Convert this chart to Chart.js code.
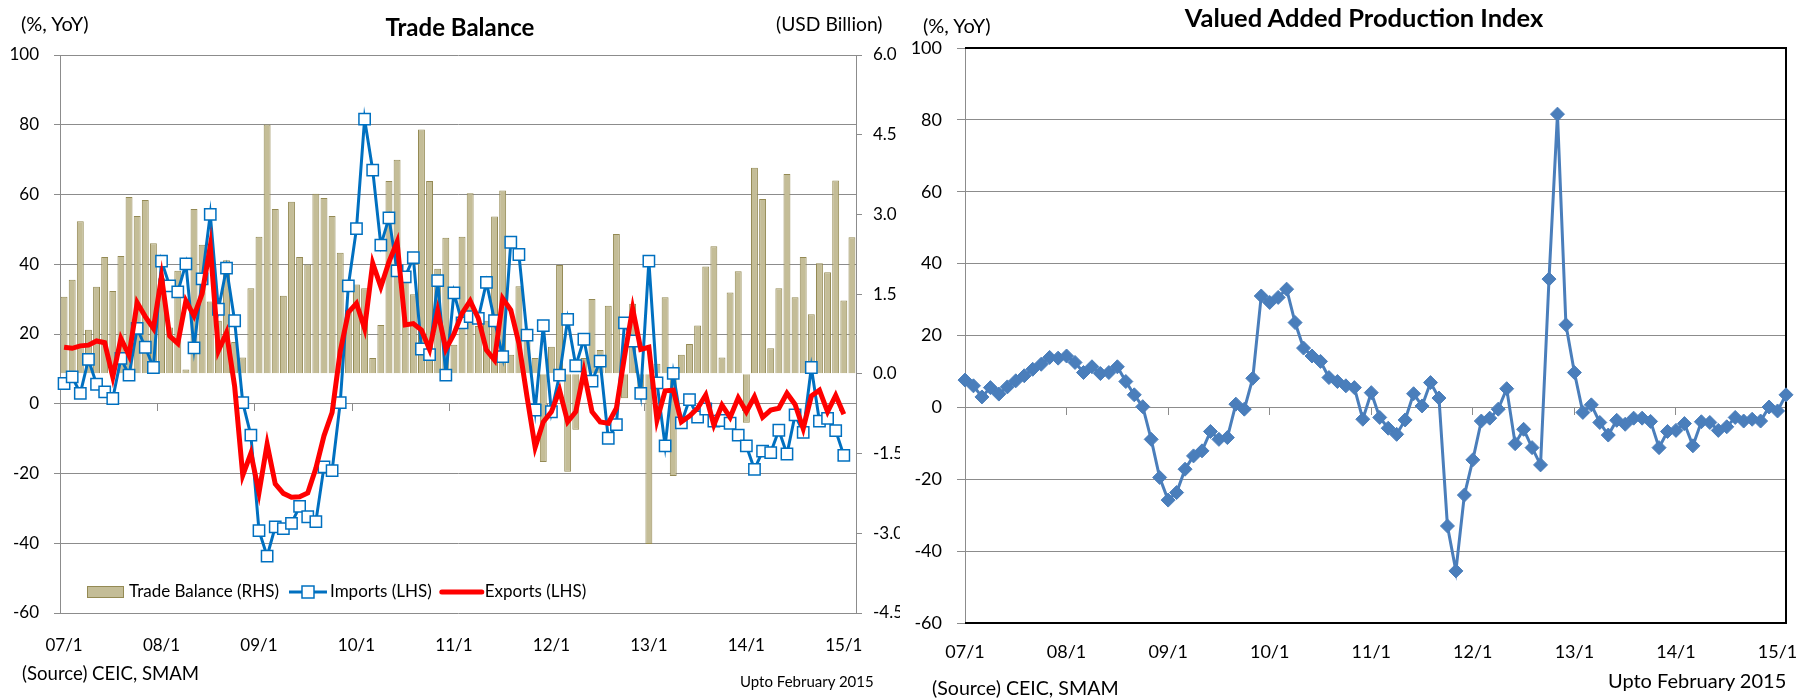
<!DOCTYPE html>
<html>
<head>
<meta charset="utf-8">
<title>Trade Balance / Valued Added Production Index</title>
<script src="https://cdn.jsdelivr.net/npm/chart.js@4.4.1/dist/chart.umd.min.js"></script>
<style>
  html, body { margin: 0; padding: 0; background: #fff; }
  body { width: 1798px; height: 698px; position: relative; overflow: hidden; font-family: Lato, "Open Sans", sans-serif; color: #000; }
  canvas { position: absolute; top: 0; }
  #tradeChart { left: 0; }
  #vaChart { left: 900px; }
  .txt { position: absolute; white-space: nowrap; line-height: 1; }
  .title { font-weight: bold; transform: translateX(-50%); }
</style>
</head>
<body>
<canvas id="tradeChart" width="900" height="698"></canvas>
<canvas id="vaChart" width="898" height="698"></canvas>

<div class="txt title" style="left:460px; top:15px; font-size:24px;">Trade Balance</div>
<div class="txt" style="left:21px; top:13px; font-size:20px;">(%, YoY)</div>
<div class="txt" style="left:776px; top:14px; font-size:19.3px;">(USD Billion)</div>
<div class="txt" style="left:22px; top:664px; font-size:18.6px;">(Source) CEIC, SMAM</div>
<div class="txt" style="left:740px; top:674px; font-size:15px;">Upto February 2015</div>

<div class="txt title" style="left:1364px; top:5px; font-size:25.5px;">Valued Added Production Index</div>
<div class="txt" style="left:923px; top:15px; font-size:20px;">(%, YoY)</div>
<div class="txt" style="left:932px; top:678px; font-size:19.6px;">(Source) CEIC, SMAM</div>
<div class="txt" style="left:1608px; top:670px; font-size:20px;">Upto February 2015</div>

<script>
// Monthly data, Jan 2007 - Feb 2015
const years = ['07', '08', '09', '10', '11', '12', '13', '14', '15'];
const monthLabels = [];
years.forEach(y => { for (let m = 1; m <= 12; m++) monthLabels.push(y + '/' + m); });
monthLabels.length = 98;

// Trade balance, USD billion (RHS)
const tradeBalance = [
  1.45, 1.77, 2.87, 0.83, 1.64, 2.20, 1.56, 2.22, 3.33, 2.97, 3.27, 2.46,
  1.80, 0.87, 1.94, 0.08, 3.10, 2.43, 1.36, 1.00, 2.14, 0.60, 0.31, 1.61,
  2.58, 4.69, 3.10, 1.47, 3.24, 2.20, 2.06, 3.39, 3.31, 2.97, 2.28, 1.20,
  1.68, 1.61, 0.30, 0.92, 3.63, 4.03, 1.80, 1.50, 4.60, 3.63, 1.98, 2.56,
  0.55, 2.58, 3.40, 0.90, 1.00, 2.96, 3.45, 0.36, 1.65, 0.78, 0.30, -1.66,
  0.51, 2.05, -1.84, -1.05, 0.30, 1.41, 0.45, 1.28, 2.63, -0.46, 1.32, -0.40,
  -3.20, 0.19, 1.44, -1.92, 0.36, 0.56, 0.91, 2.02, 2.40, 0.31, 1.53, 1.93,
  -0.92, 3.88, 3.29, 0.48, 1.61, 3.76, 1.44, 2.20, 1.12, 2.08, 1.91, 3.64,
  1.38, 2.57
];

// Imports, % YoY (LHS)
const importsYoY = [
  5.8, 7.7, 3.0, 12.7, 5.6, 3.4, 1.5, 13.0, 8.2, 21.6, 16.2, 10.4,
  40.9, 33.8, 32.1, 40.1, 16.0, 35.8, 54.3, 27.1, 38.9, 23.8, 0.3, -9.0,
  -36.4, -43.7, -35.3, -35.8, -34.3, -29.4, -32.4, -33.8, -18.1, -19.2, 0.3, 33.8,
  50.2, 81.6, 67.0, 45.5, 53.3, 38.1, 36.4, 41.9, 15.7, 14.1, 35.3, 8.2,
  31.8, 23.2, 25.0, 24.5, 34.8, 23.8, 13.5, 46.3, 42.8, 19.7, -1.8, 22.4,
  -2.3, 8.2, 24.2, 10.9, 18.5, 6.5, 12.2, -9.9, -6.0, 23.2, 18.0, 3.0,
  40.9, 6.0, -12.1, 8.7, -5.5, 1.2, -3.8, -1.5, -5.0, -4.8, -5.6, -9.0,
  -12.1, -18.8, -13.6, -14.0, -7.6, -14.4, -3.2, -8.2, 10.4, -5.0, -4.2, -7.7,
  -14.8, null
];

// Exports, % YoY (LHS)
const exportsYoY = [
  16.2, 15.9, 16.6, 16.8, 18.0, 17.5, 7.7, 18.7, 13.8, 29.0, 25.0, 21.6,
  36.4, 19.4, 17.3, 29.5, 25.2, 31.6, 45.2, 15.2, 20.4, 5.0, -20.5, -14.2,
  -25.5, -11.6, -23.0, -25.7, -26.8, -26.7, -25.6, -18.5, -9.2, -2.5, 15.0, 26.2,
  28.8, 21.6, 40.3, 33.5, 40.7, 46.4, 22.6, 23.0, 21.1, 15.6, 26.6, 15.6,
  20.0, 25.9, 29.5, 24.5, 15.4, 12.5, 30.2, 26.9, 17.3, 2.0, -12.5, -5.2,
  -2.3, 3.9, -5.2, -2.3, 9.2, -2.3, -5.2, -5.6, -1.3, 13.5, 27.3, 15.6,
  16.2, -4.7, 3.7, 3.9, -5.2, -3.5, -1.3, 2.5, -6.1, -0.4, -3.9, 1.7,
  -2.3, 2.0, -3.9, -1.8, -1.3, 3.0, -0.2, -7.1, 2.2, 3.9, -2.3, 2.4,
  -3.0, null
];

// Valued added production index, % YoY
const valueAddedYoY = [
  7.6, 6.0, 2.9, 5.5, 3.7, 5.7, 7.4, 8.8, 10.6, 12.0, 13.9, 13.7,
  14.3, 12.5, 9.7, 11.3, 9.4, 9.7, 11.3, 7.2, 3.5, 0.2, -8.9, -19.5,
  -25.8, -23.7, -17.2, -13.5, -12.1, -6.7, -8.9, -8.4, 0.9, -0.5, 8.1, 31.0,
  29.2, 30.6, 32.9, 23.6, 16.5, 14.3, 12.8, 8.3, 7.2, 6.0, 5.5, -3.3,
  4.1, -2.8, -5.8, -7.5, -3.5, 3.8, 0.4, 6.9, 2.6, -33.0, -45.5, -24.4,
  -14.6, -3.8, -3.0, -0.5, 5.2, -10.1, -6.1, -11.2, -16.0, 35.7, 81.6, 23.0,
  9.7, -1.4, 0.7, -4.2, -7.7, -3.6, -4.7, -3.0, -3.0, -3.9, -11.2, -6.7,
  -6.4, -4.5, -10.7, -4.0, -4.2, -6.4, -5.4, -2.8, -3.8, -3.3, -3.8, 0.1,
  -1.0, 3.5
];

const gridGray = '#8c8c8c';
const yearTick = (v, i) => (i % 12 === 0 ? monthLabels[i] : '');
const yearMark = c => (c.index % 12 === 0 ? gridGray : 'rgba(0,0,0,0)');

Chart.defaults.font.family = 'Lato, "Open Sans", sans-serif';
Chart.defaults.color = '#000';

// Legend drawn inside the plot area, bottom left
const insideLegend = {
  id: 'insideLegend',
  afterDraw(chart) {
    const { ctx, chartArea } = chart;
    const [exp, imp, bal] = chart.data.datasets;
    const y = chartArea.bottom - 21;
    let x = chartArea.left + 27;
    ctx.save();
    ctx.font = '17px ' + Chart.defaults.font.family;
    ctx.textBaseline = 'middle';

    ctx.fillStyle = bal.backgroundColor;
    ctx.fillRect(x, y - 6, 37, 12);
    ctx.strokeStyle = bal.borderColor;
    ctx.lineWidth = 1;
    ctx.strokeRect(x + 0.5, y - 5.5, 36, 11);
    x += 42;
    ctx.fillStyle = '#000';
    ctx.fillText(bal.label, x, y);
    x += ctx.measureText(bal.label).width + 10;

    ctx.strokeStyle = imp.borderColor;
    ctx.lineWidth = imp.borderWidth;
    ctx.beginPath(); ctx.moveTo(x, y); ctx.lineTo(x + 38, y); ctx.stroke();
    ctx.fillStyle = '#fff';
    ctx.lineWidth = imp.pointBorderWidth;
    ctx.fillRect(x + 13, y - 6, 12, 12);
    ctx.strokeRect(x + 13, y - 6, 12, 12);
    x += 41;
    ctx.fillStyle = '#000';
    ctx.fillText(imp.label, x, y);
    x += ctx.measureText(imp.label).width + 10;

    ctx.strokeStyle = exp.borderColor;
    ctx.lineWidth = exp.borderWidth;
    ctx.lineCap = 'round';
    ctx.beginPath(); ctx.moveTo(x, y); ctx.lineTo(x + 40, y); ctx.stroke();
    x += 43;
    ctx.fillText(exp.label, x, y);
    ctx.restore();
  }
};

const tradeChart = new Chart(document.getElementById('tradeChart'), {
  type: 'bar',
  data: {
    labels: monthLabels,
    datasets: [
      {
        type: 'line',
        label: 'Exports (LHS)',
        data: exportsYoY,
        yAxisID: 'y',
        borderColor: '#ff0000',
        borderWidth: 5,
        pointRadius: 0,
        tension: 0,
        order: 0
      },
      {
        type: 'line',
        label: 'Imports (LHS)',
        data: importsYoY,
        yAxisID: 'y',
        borderColor: '#0070c0',
        borderWidth: 3,
        pointStyle: 'rect',
        pointRadius: 8,
        pointBackgroundColor: '#ffffff',
        pointBorderColor: '#0070c0',
        pointBorderWidth: 1.5,
        tension: 0,
        order: 1
      },
      {
        label: 'Trade Balance (RHS)',
        data: tradeBalance,
        yAxisID: 'y1',
        backgroundColor: '#c4bd97',
        borderColor: '#948a54',
        borderWidth: 1,
        barPercentage: 0.85,
        categoryPercentage: 1.0,
        order: 2
      }
    ]
  },
  options: {
    responsive: false,
    animation: false,
    layout: { padding: { top: 55, left: 0, right: 0, bottom: 0 } },
    plugins: { legend: { display: false }, tooltip: { enabled: false } },
    scales: {
      x: {
        type: 'category',
        offset: true,
        grid: { display: false },
        border: { display: false },
        ticks: { autoSkip: false, maxRotation: 0, padding: 14, font: { size: 17 }, callback: yearTick },
        afterFit: s => { s.height = 85; }
      },
      xZero: {
        type: 'category',
        axis: 'x',
        offset: true,
        position: { y: 0 },
        grid: { offset: true, drawOnChartArea: false, tickLength: 7, color: yearMark },
        border: { display: true, color: gridGray },
        ticks: { display: false, autoSkip: false }
      },
      y: {
        position: 'left',
        min: -60,
        max: 100,
        ticks: { stepSize: 20, padding: 15, font: { size: 17 } },
        grid: { color: gridGray, tickLength: 6 },
        border: { color: gridGray },
        afterFit: s => { s.width = 60; }
      },
      y1: {
        position: 'right',
        min: -4.5,
        max: 6,
        ticks: { stepSize: 1.5, padding: 11, font: { size: 17 }, callback: v => v.toFixed(1) },
        grid: { drawOnChartArea: false, color: gridGray, tickLength: 6 },
        border: { color: gridGray },
        afterFit: s => { s.width = 44; }
      }
    }
  },
  plugins: [insideLegend]
});

// Black frame on top, right and bottom of the plot area
const plotFrame = {
  id: 'plotFrame',
  beforeDatasetsDraw(chart) {
    const { ctx, chartArea: a } = chart;
    ctx.save();
    ctx.strokeStyle = '#000';
    ctx.lineWidth = 2;
    ctx.beginPath();
    ctx.moveTo(a.left, a.top);
    ctx.lineTo(a.right, a.top);
    ctx.lineTo(a.right, a.bottom);
    ctx.lineTo(a.left, a.bottom);
    ctx.stroke();
    ctx.restore();
  }
};

const vaChart = new Chart(document.getElementById('vaChart'), {
  type: 'line',
  data: {
    labels: monthLabels,
    datasets: [{
      label: 'Valued Added Production Index',
      data: valueAddedYoY,
      borderColor: '#4a7ebb',
      borderWidth: 3,
      pointStyle: 'rectRot',
      pointRadius: 7,
      pointBackgroundColor: '#4a7ebb',
      pointBorderColor: '#4a7ebb',
      pointBorderWidth: 1,
      tension: 0
    }]
  },
  options: {
    responsive: false,
    animation: false,
    layout: { padding: { top: 48, left: 0, right: 12, bottom: 0 } },
    plugins: { legend: { display: false }, tooltip: { enabled: false } },
    scales: {
      x: {
        type: 'category',
        offset: false,
        grid: { display: false },
        border: { display: false },
        ticks: { autoSkip: false, maxRotation: 0, padding: 10, font: { size: 18 }, callback: yearTick },
        afterFit: s => { s.height = 75; }
      },
      xZero: {
        type: 'category',
        axis: 'x',
        offset: false,
        position: { y: 0 },
        grid: { offset: false, drawOnChartArea: false, tickLength: 7, color: yearMark },
        border: { display: true, color: gridGray },
        ticks: { display: false, autoSkip: false }
      },
      y: {
        min: -60,
        max: 100,
        ticks: { stepSize: 20, padding: 15, font: { size: 18 } },
        grid: { color: gridGray, tickLength: 8 },
        border: { color: gridGray },
        afterFit: s => { s.width = 65; }
      }
    }
  },
  plugins: [plotFrame]
});
</script>
</body>
</html>
